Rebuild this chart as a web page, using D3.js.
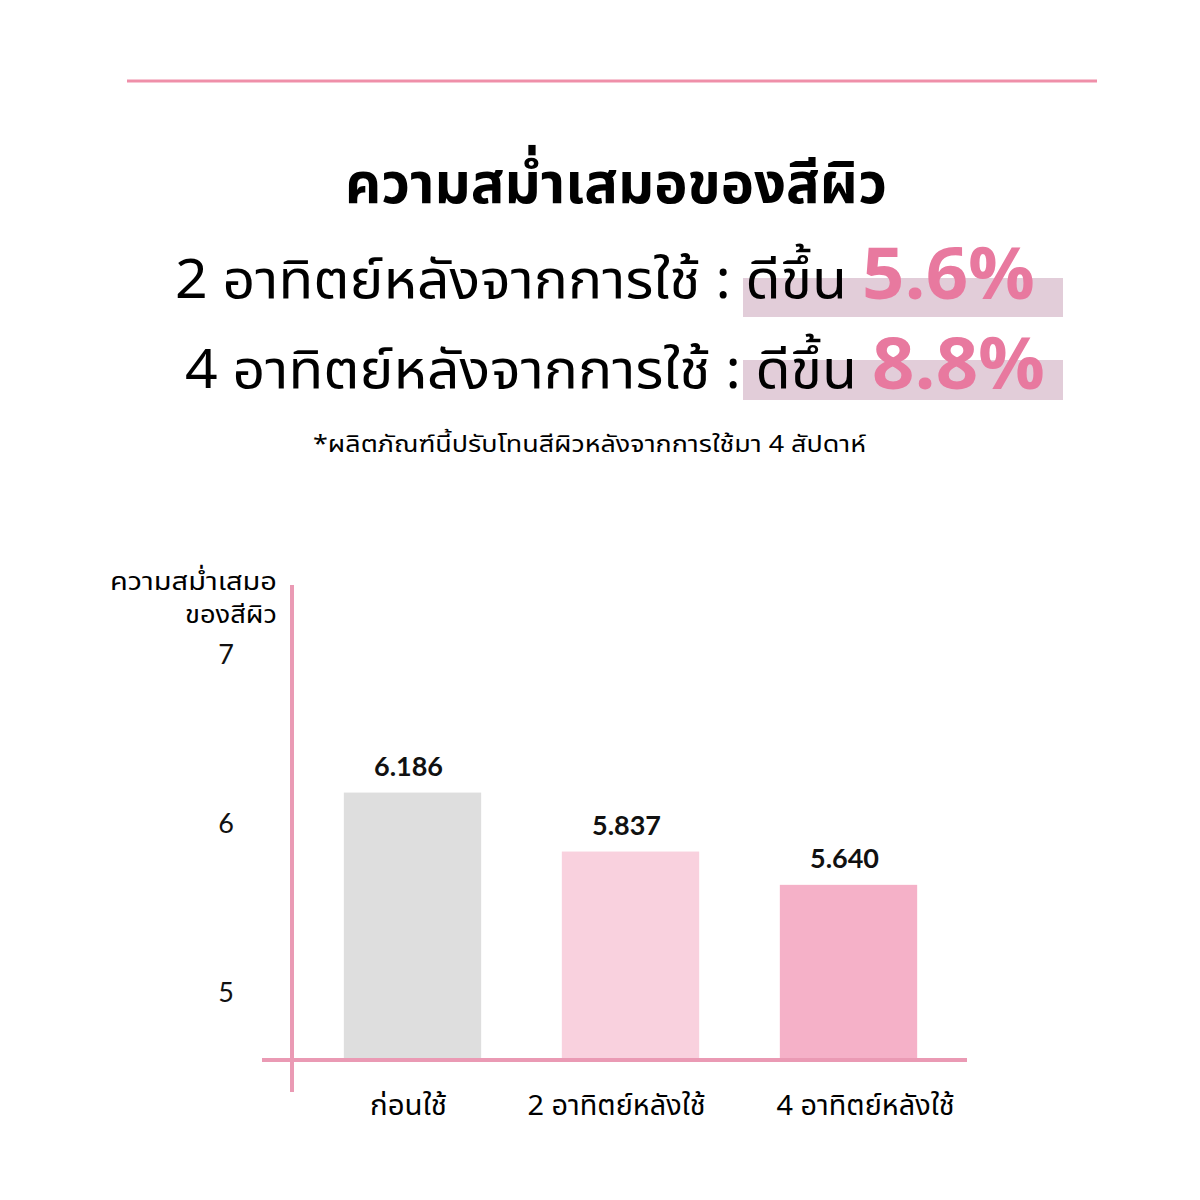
<!DOCTYPE html>
<html><head><meta charset="utf-8">
<script src="https://cdn.jsdelivr.net/npm/d3@7"></script>
<style>
html,body{margin:0;padding:0;background:#fff;}
text{font-family:"Noto Sans Thai","Noto Sans",sans-serif;}
</style></head>
<body><svg id="c" width="1200" height="1200"></svg>
<script>
const title = "ความสม่ำเสมอของสีผิว";
const linePre = ["2 อาทิตย์หลังจากการใช้ : ดีขึ้น", "4 อาทิตย์หลังจากการใช้ : ดีขึ้น"];
const linePct = ["5.6%", "8.8%"];
const footnote = "*ผลิตภัณฑ์นี้ปรับโทนสีผิวหลังจากการใช้มา 4 สัปดาห์";
const yTitle = ["ความสม่ำเสมอ", "ของสีผิว"];
const categories = ["ก่อนใช้", "2 อาทิตย์หลังใช้", "4 อาทิตย์หลังใช้"];
const values = [6.186, 5.837, 5.640];
const valueLabels = ["6.186", "5.837", "5.640"];
const yTicks = [5, 6, 7];
const barColors = ["#dedede", "#f9d1de", "#f5b1c8"];

const svg = d3.select("#c");
svg.append("rect").attr("width",1200).attr("height",1200).attr("fill","#fff");

// top rule
svg.append("line").attr("x1",127).attr("x2",1097).attr("y1",81).attr("y2",81)
  .attr("stroke","#ef8fa9").attr("stroke-width",3);

svg.append("text").attr("x",345).attr("y",203)
  .attr("font-size",56).attr("font-weight",700).attr("fill","#000")
  .attr("textLength",542).attr("lengthAdjust","spacingAndGlyphs").text(title);

const lineY = [298, 388];
const preX = [175, 185];
const preW = [672, 672];
const pctX = [862, 872];
const hiY = [[278,317],[360,400]];
linePre.forEach((s,i)=>{
  svg.append("rect").attr("x",743).attr("y",hiY[i][0]).attr("width",320)
    .attr("height",hiY[i][1]-hiY[i][0]).attr("fill","#e2cdd9");
  svg.append("text").attr("x",preX[i]).attr("y",lineY[i]).attr("font-size",54).attr("fill","#000")
    .attr("textLength",preW[i]).attr("lengthAdjust","spacingAndGlyphs").text(s);
  svg.append("text").attr("x",pctX[i]).attr("y",lineY[i]+1).attr("font-size",72).attr("font-weight",700)
    .attr("fill","#e8799f").attr("textLength",173).attr("lengthAdjust","spacingAndGlyphs").text(linePct[i]);
});

svg.append("text").attr("x",313).attr("y",452)
  .attr("font-size",23).attr("fill","#000")
  .attr("textLength",553).attr("lengthAdjust","spacingAndGlyphs").text(footnote);

// chart
const baseline = 1060;
const x = d3.scaleBand().domain(categories).range([303.5,957.5]).paddingInner(0.37).paddingOuter(0.185);
const y = d3.scaleLinear().domain([5,7]).range([993,655]);

svg.selectAll("rect.bar").data(values).enter().append("rect").attr("class","bar")
  .attr("x",(d,i)=>x(categories[i])).attr("width",x.bandwidth())
  .attr("y",d=>y(d)).attr("height",d=>baseline-y(d))
  .attr("fill",(d,i)=>barColors[i]);

svg.selectAll("text.val").data(values).enter().append("text").attr("class","val")
  .attr("x",(d,i)=>x(categories[i])+x.bandwidth()/2-4).attr("y",d=>y(d)-17)
  .attr("text-anchor","middle").attr("font-size",27).attr("font-weight",700)
  .style("font-family","Lato, sans-serif").attr("fill","#111")
  .text((d,i)=>valueLabels[i]);

svg.selectAll("text.tick").data(yTicks).enter().append("text").attr("class","tick")
  .attr("x",226).attr("y",d=>y(d)).attr("dy","0.35em").attr("text-anchor","middle")
  .attr("font-size",27).style("font-family","Lato, sans-serif").attr("fill","#111").text(d=>d);

const yTitleW = [167, 92];
yTitle.forEach((s,i)=>{
  svg.append("text").attr("x",277-yTitleW[i]).attr("y",590+i*33)
    .attr("font-size",25).attr("fill","#000")
    .attr("textLength",yTitleW[i]).attr("lengthAdjust","spacingAndGlyphs").text(s);
});

// axes lines
svg.append("line").attr("x1",292).attr("x2",292).attr("y1",585).attr("y2",1092)
  .attr("stroke","#ea9ab4").attr("stroke-width",4);
svg.append("line").attr("x1",262).attr("x2",967).attr("y1",baseline).attr("y2",baseline)
  .attr("stroke","#ea9ab4").attr("stroke-width",4);

const catW = [77, 178, 178];
const catShift = [-4, -14, 17];
svg.selectAll("text.cat").data(categories).enter().append("text").attr("class","cat")
  .attr("x",(d,i)=>x(d)+x.bandwidth()/2+catShift[i]).attr("y",1115).attr("text-anchor","middle")
  .attr("font-size",28).attr("fill","#000")
  .attr("textLength",(d,i)=>catW[i]).attr("lengthAdjust","spacingAndGlyphs").text(d=>d);
</script></body></html>
